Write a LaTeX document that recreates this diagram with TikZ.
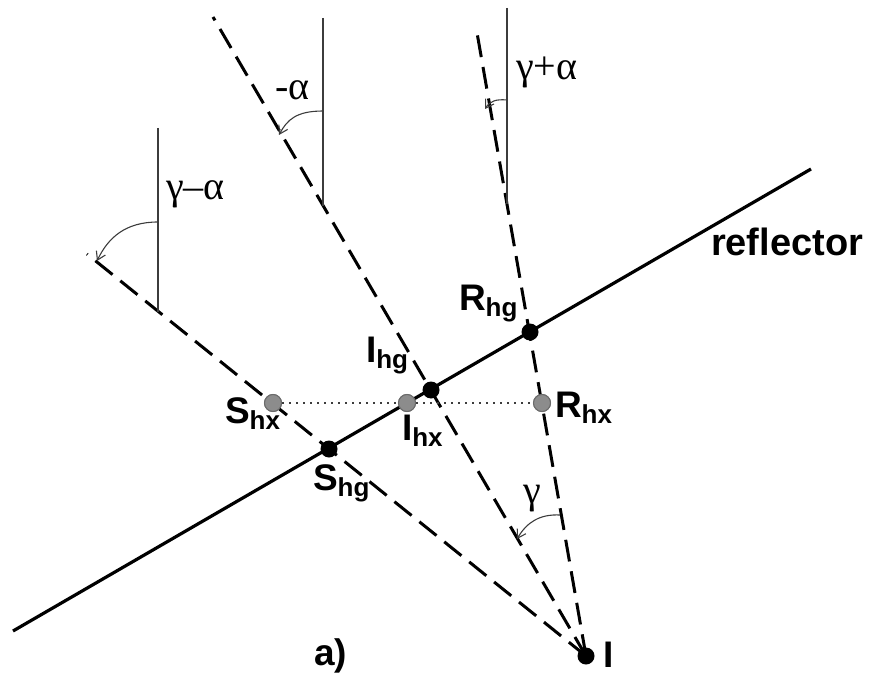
\documentclass[tikz,border=0pt]{standalone}
\usepackage{fontspec}
\setmainfont{Liberation Sans}
\newfontfamily\grk{Liberation Serif}
\usetikzlibrary{arrows.meta}
\newcommand\lbl[2]{{\bfseries\fontsize{37}{40}\selectfont #1}\raisebox{-6pt}{\bfseries\fontsize{26}{28}\selectfont #2}}
\newcommand\gtxt[1]{{\grk\fontsize{40}{42}\selectfont #1}}
\definecolor{vgray}{HTML}{3C3C3C}
\definecolor{dotfill}{HTML}{8C8C8C}
\definecolor{dotline}{HTML}{6A6A6A}
\tikzset{
  refl/.style={line width=3.2pt, black},
  ray/.style={line width=3pt, black, dash pattern=on 22pt off 10pt},
  vline/.style={line width=2.4pt, vgray},
  angarrow/.style={line width=1.1pt, vgray, -{Straight Barb[length=8pt,width=10pt]}},
  hdots/.style={line width=2.6pt, vgray, dash pattern=on 2.4pt off 4.6pt},
  bdot/.style={circle, fill=black, minimum size=17pt, inner sep=0pt},
  gdot/.style={circle, fill=dotfill, draw=dotline, line width=1pt, minimum size=17pt, inner sep=0pt},
  txt/.style={anchor=base west, inner sep=0pt, outer sep=0pt},
}
\begin{document}
\begin{tikzpicture}[x=1pt,y=-1pt]
\useasboundingbox (0,0) rectangle (872,679);
% coordinates
\coordinate (I0) at (586,656);
\coordinate (Send) at (87,254);
\coordinate (Iend) at (213,17);
\coordinate (Rend) at (476,27);
\coordinate (RL) at (13,631);
\coordinate (RR) at (811,169);
\coordinate (V1t) at (158,128);
\coordinate (V1b) at (158,312);
\coordinate (V2t) at (323,18);
\coordinate (V2b) at (323,206);
\coordinate (V3t) at (507,8);
\coordinate (V3b) at (507,204);
% reflector
\draw[refl] (RL) -- (RR);
% rays
\draw[ray] (I0) -- (Send);
\draw[ray] (I0) -- (Iend);
\draw[ray] (I0) -- (Rend);
% verticals
\draw[vline] (V1t) -- (V1b);
\draw[vline] (V2t) -- (V2b);
\draw[vline] (V3t) -- (V3b);
% angle arrows
\coordinate (a1s) at (158,222); \coordinate (a1e) at (97,261);
\coordinate (a2s) at (323,111); \coordinate (a2e) at (279,135);
\coordinate (a3s) at (507,100); \coordinate (a3e) at (485,109);
\coordinate (a4s) at (560,515); \coordinate (a4e) at (517,539);
\draw[angarrow] (a1s) .. controls (125,222) and (108,238) .. (a1e);
\draw[angarrow] (a2s) .. controls (296,111) and (287,120) .. (a2e);
\draw[angarrow] (a3s) .. controls (496,99) and (490,101) .. (a3e);
\draw[angarrow] (a4s) .. controls (540,514) and (527,522) .. (a4e);
% dotted horizontal
\node[gdot] (Shx) at (273,403) {};
\node[gdot] (Ihx) at (407,403) {};
\node[gdot] (Rhx) at (542,403) {};
\draw[hdots] (Shx) -- (Ihx);
\draw[hdots] (Ihx) -- (Rhx);
\node[gdot] at (Shx) {};
\node[gdot] at (Ihx) {};
\node[gdot] at (Rhx) {};
% black dots
\node[bdot] (Shg) at (329,449) {};
\node[bdot] (Ihg) at (431,390) {};
\node[bdot] (Rhg) at (530,332) {};
\node[bdot] (Ipt) at (586,656) {};
% labels
\node[txt] (tShx) at (225,423) {\lbl{S}{hx}};
\node[txt] (tIhx) at (402,440) {\lbl{I}{hx}};
\node[txt] (tIhg) at (366,362) {\lbl{I}{hg}};
\node[txt] (tRhg) at (459,310) {\lbl{R}{hg}};
\node[txt] (tRhx) at (555,417) {\lbl{R}{hx}};
\node[txt] (tShg) at (313,490) {\lbl{S}{hg}};
\node[txt] (tI) at (603,667) {\bfseries\fontsize{37}{40}\selectfont I};
\node[txt] (ta) at (314,665) {\bfseries\fontsize{37}{40}\selectfont a)};
\node[txt] (trefl) at (711,255) {\bfseries\fontsize{38}{40}\selectfont reflector};
\node[txt] (g1) at (166,200) {\gtxt{γ–α}};
\node[txt] (g2) at (275,100) {\gtxt{-α}};
\node[txt] (g3) at (516,80) {\gtxt{γ+α}};
\node[txt] (g4) at (523,503) {\gtxt{γ}};
\end{tikzpicture}
\end{document}
